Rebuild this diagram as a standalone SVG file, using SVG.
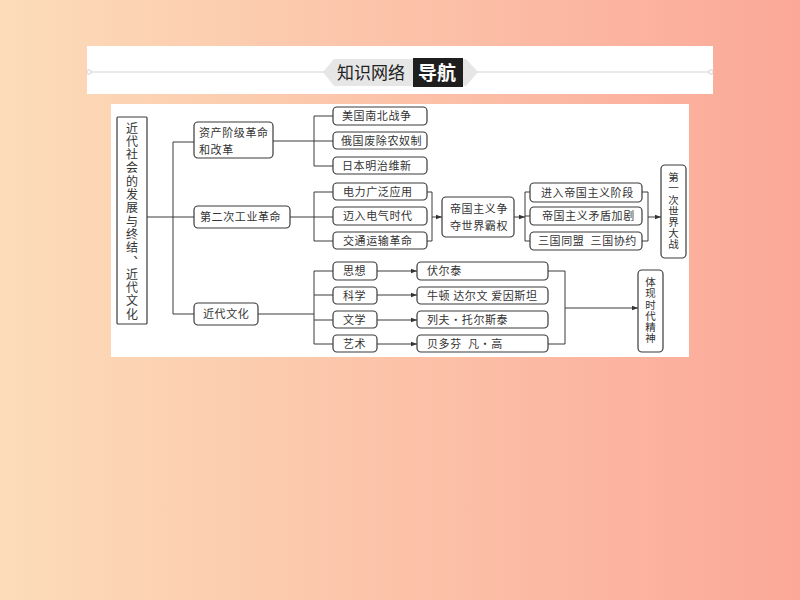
<svg xmlns="http://www.w3.org/2000/svg" width="800" height="600" viewBox="0 0 800 600">
<defs>
<linearGradient id="bg" x1="0" y1="0" x2="1" y2="0">
<stop offset="0" stop-color="#fcdcb9"/>
<stop offset="1" stop-color="#fba898"/>
</linearGradient>
<marker id="ar" viewBox="0 0 8 8" refX="8" refY="4" markerWidth="6" markerHeight="6" orient="auto" markerUnits="userSpaceOnUse">
<path d="M0,1 L8,4 L0,7 Z" fill="#333"/>
</marker>
<style>
.b{fill:#fff;stroke:#3a3a3a;stroke-width:1.2}
.t{font-family:"Noto Sans CJK SC","Noto Sans",sans-serif;font-size:11px;fill:#333;letter-spacing:0.6px;white-space:pre}
.v{font-family:"Noto Sans CJK SC","Noto Sans",sans-serif;font-size:10.5px;fill:#333;writing-mode:vertical-rl;letter-spacing:0.7px}
.c{fill:none;stroke:#3a3a3a;stroke-width:1}
</style>
</defs>
<rect width="800" height="600" fill="url(#bg)"/>
<g id="header">
<rect x="87" y="46" width="626" height="48" fill="#fff"/>
<line x1="91" y1="72" x2="709" y2="72" stroke="#e2e2e2" stroke-width="1.5"/>
<circle cx="89" cy="72" r="2.2" fill="#fff" stroke="#cfcfcf"/>
<circle cx="711" cy="72" r="2.2" fill="#fff" stroke="#cfcfcf"/>
<polygon points="323,72 334,59 466,59 478,72 466,86 334,86" fill="#e6e6e6"/>
<rect x="413" y="58" width="50" height="29" fill="#1e1e1e"/>
<text x="337" y="79" font-family="Noto Sans CJK SC,sans-serif" font-size="17" fill="#222">知识网络</text>
<text x="418" y="80" font-family="Noto Sans CJK SC,sans-serif" font-size="19" font-weight="bold" fill="#fff">导航</text>
</g>
<rect x="111" y="104" width="578" height="253" fill="#fff"/>
<g id="connectors">
<path class="c" d="M147,217 H173 M173,142 V314 M173,142 H194 M173,217 H194 M173,314 H194"/>
<path class="c" d="M273,141 H314 M314,116 V166 M314,116 H333 M314,141 H333 M314,166 H333"/>
<path class="c" d="M290,217 H314 M314,192 V241 M314,192 H333 M314,217 H333 M314,241 H333"/>
<path class="c" d="M258,314 H314 M314,271 V344 M314,271 H333 M314,295 H333 M314,320 H333 M314,344 H333"/>
<path class="c" d="M427,192 H432 M427,241 H432 M432,192 V241"/>
<line class="c" x1="432" y1="217" x2="442" y2="217" marker-end="url(#ar)"/>
<line class="c" x1="514" y1="217" x2="525" y2="217" marker-end="url(#ar)"/>
<path class="c" d="M525,192 V241 M525,192 H530 M525,216 H530 M525,241 H530"/>
<path class="c" d="M642,192 H648 M642,241 H648 M648,192 V241"/>
<line class="c" x1="648" y1="217" x2="661" y2="217" marker-end="url(#ar)"/>
<line class="c" x1="377" y1="271" x2="417" y2="271" marker-end="url(#ar)"/>
<line class="c" x1="377" y1="295" x2="417" y2="295" marker-end="url(#ar)"/>
<line class="c" x1="377" y1="320" x2="417" y2="320" marker-end="url(#ar)"/>
<line class="c" x1="377" y1="344" x2="417" y2="344" marker-end="url(#ar)"/>
<path class="c" d="M548,271 H565 M548,344 H565 M565,271 V344"/>
<line class="c" x1="565" y1="308" x2="638" y2="308" marker-end="url(#ar)"/>
</g>
<g id="root">
<rect class="b" x="117" y="117" width="30" height="207" rx="1"/>
<text class="v" x="132" y="122" style="font-size:12px;letter-spacing:1.3px">近代社会的发展与终结、近代文化</text>
</g>
<g id="n-zichan"><rect class="b" x="194" y="122" width="79" height="36" rx="4"/><text class="t" x="199" y="137">资产阶级革命</text><text class="t" x="199" y="154">和改革</text></g>
<g id="n-gongye"><rect class="b" x="194" y="206" width="96" height="22" rx="4"/><text class="t" x="200" y="221">第二次工业革命</text></g>
<g id="n-wenhua"><rect class="b" x="194" y="303" width="64" height="22" rx="4"/><text class="t" x="203" y="318">近代文化</text></g>
<g id="n-meiguo"><rect class="b" x="333" y="107" width="94" height="18" rx="4"/><text class="t" x="342" y="120">美国南北战争</text></g>
<g id="n-eguo"><rect class="b" x="333" y="132" width="94" height="17" rx="4"/><text class="t" x="341" y="145">俄国废除农奴制</text></g>
<g id="n-riben"><rect class="b" x="333" y="157" width="94" height="17" rx="4"/><text class="t" x="342" y="170">日本明治维新</text></g>
<g id="n-dianli"><rect class="b" x="333" y="183" width="94" height="17" rx="4"/><text class="t" x="343" y="196">电力广泛应用</text></g>
<g id="n-mairu"><rect class="b" x="333" y="207" width="94" height="18" rx="4"/><text class="t" x="343" y="220">迈入电气时代</text></g>
<g id="n-jiaotong"><rect class="b" x="333" y="232" width="94" height="17" rx="4"/><text class="t" x="343" y="245">交通运输革命</text></g>
<g id="n-diguo"><rect class="b" x="442" y="197" width="72" height="40" rx="4"/><text class="t" x="450" y="213">帝国主义争</text><text class="t" x="450" y="230">夺世界霸权</text></g>
<g id="n-jinru"><rect class="b" x="530" y="183" width="112" height="19" rx="4"/><text class="t" x="541" y="197">进入帝国主义阶段</text></g>
<g id="n-maodun"><rect class="b" x="530" y="207" width="112" height="18" rx="4"/><text class="t" x="542" y="220">帝国主义矛盾加剧</text></g>
<g id="n-sanguo"><rect class="b" x="530" y="232" width="112" height="18" rx="4"/><text class="t" x="538" y="245">三国同盟  三国协约</text></g>
<g id="n-yizhan"><rect class="b" x="661" y="165" width="25" height="93" rx="4"/>
<text class="v" x="673.5" y="172">第一次世界大战</text></g>
<g id="n-sixiang"><rect class="b" x="333" y="262" width="44" height="18" rx="4"/><text class="t" x="343" y="275">思想</text></g>
<g id="n-kexue"><rect class="b" x="333" y="287" width="44" height="17" rx="4"/><text class="t" x="343" y="300">科学</text></g>
<g id="n-wenxue"><rect class="b" x="333" y="311" width="44" height="17" rx="4"/><text class="t" x="343" y="324">文学</text></g>
<g id="n-yishu"><rect class="b" x="333" y="335" width="44" height="17" rx="4"/><text class="t" x="343" y="348">艺术</text></g>
<g id="n-voltaire"><rect class="b" x="417" y="262" width="131" height="18" rx="4"/><text class="t" x="427" y="275">伏尔泰</text></g>
<g id="n-newton"><rect class="b" x="417" y="287" width="131" height="17" rx="4"/><text class="t" x="427" y="300">牛顿 达尔文 爱因斯坦</text></g>
<g id="n-tolstoy"><rect class="b" x="417" y="311" width="131" height="17" rx="4"/><text class="t" x="427" y="324">列夫·托尔斯泰</text></g>
<g id="n-beethoven"><rect class="b" x="417" y="335" width="131" height="17" rx="4"/><text class="t" x="427" y="348">贝多芬  凡·高</text></g>
<g id="n-tixian"><rect class="b" x="638" y="270" width="25" height="82" rx="4"/>
<text class="v" x="650.5" y="277">体现时代精神</text></g>
</svg>
